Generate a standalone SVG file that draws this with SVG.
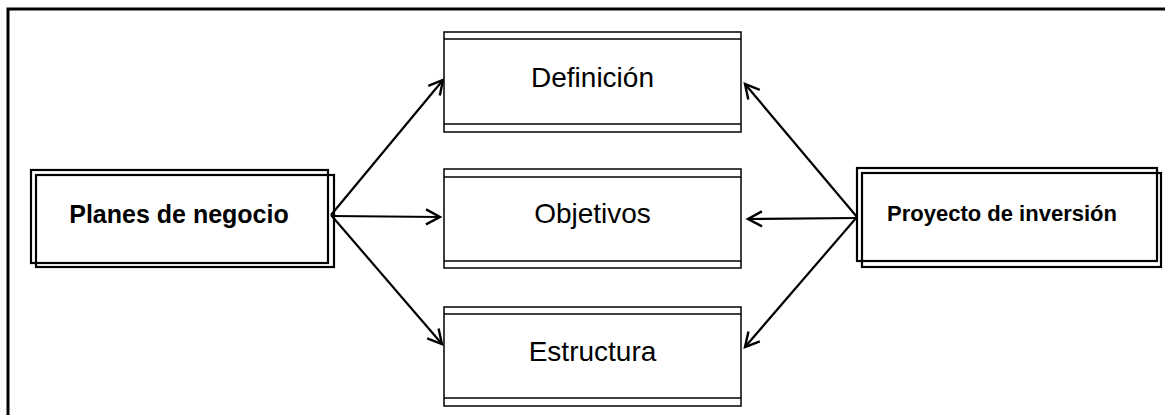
<svg xmlns="http://www.w3.org/2000/svg" width="1165" height="415" viewBox="0 0 1165 415">
<style>
.frame{fill:none;stroke:#000;stroke-width:3}
.box{fill:#fff;stroke:#000;stroke-width:1.5}
.dbl{fill:none;stroke:#000;stroke-width:2.2}
.sep{stroke:#000;stroke-width:1.5}
.lbl{font-family:"Liberation Sans",Arial,sans-serif;font-size:28px;fill:#000;text-anchor:middle}
.bold{font-family:"Liberation Sans",Arial,sans-serif;font-weight:bold;fill:#000;text-anchor:middle}
.conn{stroke:#000;stroke-width:2.2;fill:none;marker-end:url(#arr)}
</style>
<defs>
<marker id="arr" markerWidth="18" markerHeight="18" viewBox="-15 -9 17 18" refX="0" refY="0" orient="auto" markerUnits="userSpaceOnUse">
<path d="M-14,-7.5 L0,0 L-14,7.5" fill="none" stroke="#000" stroke-width="2.4"/>
</marker>
</defs>
<rect width="1165" height="415" fill="#fff"/>
<path class="frame" d="M8,415 V9 H1165"/>
<g id="connectors">
<line class="conn" x1="331" y1="215" x2="443" y2="80"/>
<line class="conn" x1="331" y1="216" x2="440" y2="217"/>
<line class="conn" x1="331" y1="215" x2="442" y2="344"/>
<line class="conn" x1="857" y1="217" x2="745" y2="84"/>
<line class="conn" x1="857" y1="218" x2="748" y2="219"/>
<line class="conn" x1="857" y1="217" x2="745" y2="347"/>
</g>
<g id="planes">
<rect class="dbl" x="36" y="175" width="298" height="92"/>
<rect class="dbl" x="31" y="170" width="297" height="93" fill="#fff"/>
<text class="bold" x="179" y="223" font-size="25">Planes de negocio</text>
</g>
<g id="definicion">
<rect class="box" x="444" y="32" width="297" height="100"/>
<line class="sep" x1="444" y1="39" x2="741" y2="39"/>
<line class="sep" x1="444" y1="124" x2="741" y2="124"/>
<text class="lbl" x="592.5" y="87">Definición</text>
</g>
<g id="objetivos">
<rect class="box" x="444" y="169" width="297" height="99"/>
<line class="sep" x1="444" y1="177" x2="741" y2="177"/>
<line class="sep" x1="444" y1="261" x2="741" y2="261"/>
<text class="lbl" x="592.5" y="223">Objetivos</text>
</g>
<g id="estructura">
<rect class="box" x="444" y="307" width="297" height="99"/>
<line class="sep" x1="444" y1="314" x2="741" y2="314"/>
<line class="sep" x1="444" y1="398" x2="741" y2="398"/>
<text class="lbl" x="592.5" y="361">Estructura</text>
</g>
<g id="proyecto">
<rect class="dbl" x="862" y="173" width="299" height="94"/>
<rect class="dbl" x="857" y="168" width="300" height="93" fill="#fff"/>
<text class="bold" x="1002" y="221" font-size="22">Proyecto de inversión</text>
</g>
</svg>
